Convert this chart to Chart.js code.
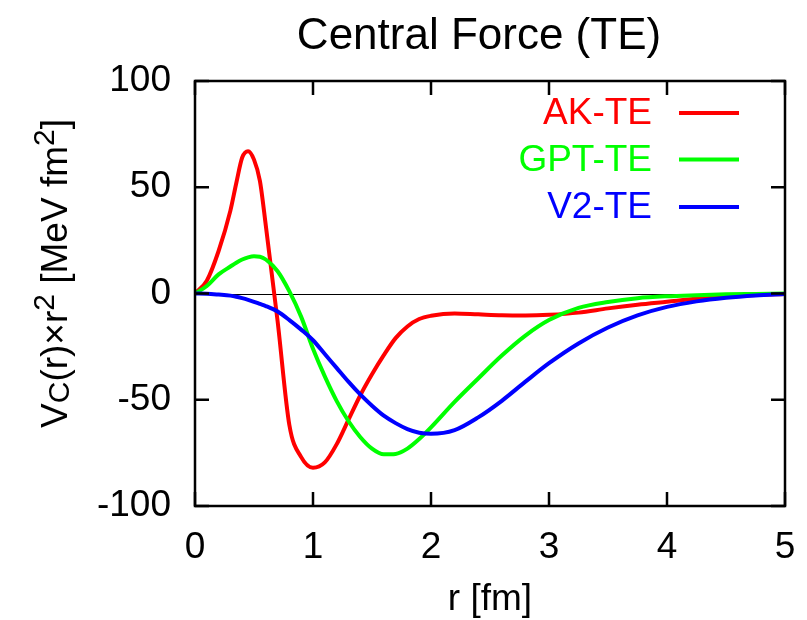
<!DOCTYPE html>
<html>
<head>
<meta charset="utf-8">
<script src="https://cdn.jsdelivr.net/npm/chart.js@4"></script>
<style>
  html, body { margin: 0; padding: 0; background: #fff; }
  canvas { display: block; }
</style>
</head>
<body>
<canvas id="chart" width="807" height="620"></canvas>
<script>
// ── Data ─────────────────────────────────────────────────────
const rGrid = [0, 0.1, 0.2, 0.3, 0.35, 0.4, 0.45, 0.5, 0.55, 0.6, 0.7, 0.8, 0.9,
  1.0, 1.1, 1.2, 1.3, 1.4, 1.5, 1.6, 1.7, 1.8, 1.9, 2.0, 2.2, 2.4, 2.6, 2.8,
  3.0, 3.25, 3.5, 3.75, 4.0, 4.25, 4.5, 4.75, 5.0];

const akTE = [0, 6, 20, 39, 52, 64, 67, 63, 53, 32, -13, -62, -77,
  -82, -79.5, -71, -59.5, -48, -38, -29, -21, -15.5, -12, -10.5, -9.4, -9.8, -10.2, -10.3,
  -10, -9, -7, -5.3, -3.9, -2.5, -1.5, -0.7, -0.2];

const gptTE = [0, 3.5, 9, 12.7, 14.5, 16, 17, 17.5, 17.3, 16, 10.5, 1, -11,
  -26, -39, -50.5, -60, -67.5, -73, -75.7, -75.5, -73, -68.5, -63, -51, -40, -29.2, -19.8,
  -12.5, -6.8, -4, -2.2, -1.3, -0.8, -0.4, -0.2, 0];

const v2TE = [0, -0.1, -0.5, -1, -1.5, -2.2, -3, -3.9, -4.9, -5.9, -8.5, -12.5, -17,
  -22, -28.5, -35, -41.5, -47.5, -52.8, -57.5, -61, -63.8, -65.5, -66, -64.3, -58.3, -50.5, -41.5,
  -32.8, -23.5, -16, -10.3, -6.3, -3.7, -2, -0.9, -0.2];

const seriesNames  = ['AK-TE', 'GPT-TE', 'V2-TE'];
const seriesColors = ['#ff0000', '#00ff00', '#0000ff'];

const xTicks = [0, 1, 2, 3, 4, 5];
const yTicks = [-100, -50, 0, 50, 100];

const FONT = '"Liberation Sans", Arial, Helvetica, sans-serif';

function toPoints(ys) { return rGrid.map((r, i) => ({ x: r, y: ys[i] })); }

// ── Plugins ──────────────────────────────────────────────────
// thin zero line under the curves
const zeroLine = {
  id: 'zeroLine',
  beforeDatasetsDraw(chart) {
    const { ctx, chartArea: a, scales: { y } } = chart;
    const py = Math.round(y.getPixelForValue(0)) + 0.5;
    ctx.save();
    ctx.strokeStyle = '#000';
    ctx.lineWidth = 1;
    ctx.beginPath();
    ctx.moveTo(a.left, py);
    ctx.lineTo(a.right, py);
    ctx.stroke();
    ctx.restore();
  }
};

// gnuplot-like frame with inward ticks on all four sides
const frame = {
  id: 'frame',
  afterDatasetsDraw(chart) {
    const { ctx, chartArea: a, scales: { x, y } } = chart;
    const tl = 14;
    ctx.save();
    ctx.strokeStyle = '#000';
    ctx.lineWidth = 2.5;
    ctx.strokeRect(a.left, a.top, a.right - a.left, a.bottom - a.top);
    ctx.beginPath();
    xTicks.forEach(v => {
      const px = x.getPixelForValue(v);
      ctx.moveTo(px, a.bottom); ctx.lineTo(px, a.bottom - tl);
      ctx.moveTo(px, a.top);    ctx.lineTo(px, a.top + tl);
    });
    yTicks.forEach(v => {
      const py = y.getPixelForValue(v);
      ctx.moveTo(a.left, py);  ctx.lineTo(a.left + tl, py);
      ctx.moveTo(a.right, py); ctx.lineTo(a.right - tl, py);
    });
    ctx.stroke();
    ctx.restore();
  }
};

// title, a bit left of the plot centre like the original
const plotTitle = {
  id: 'plotTitle',
  afterDraw(chart) {
    const { ctx, chartArea: a } = chart;
    ctx.save();
    ctx.font = '44px ' + FONT;
    ctx.fillStyle = '#000';
    ctx.textAlign = 'center';
    ctx.textBaseline = 'alphabetic';
    ctx.fillText('Central Force (TE)', (a.left + a.right) / 2 - 11, 49);
    ctx.restore();
  }
};

// key in the top right: label first, then the line sample
const key = {
  id: 'key',
  afterDraw(chart) {
    const { ctx, chartArea: a } = chart;
    const rows = [a.top + 32, a.top + 78.5, a.top + 126];
    ctx.save();
    ctx.font = '37px ' + FONT;
    ctx.textAlign = 'right';
    ctx.textBaseline = 'middle';
    ctx.lineWidth = 4;
    seriesNames.forEach((name, i) => {
      ctx.fillStyle = seriesColors[i];
      ctx.fillText(name, a.right - 133, rows[i] + 1);
      ctx.strokeStyle = seriesColors[i];
      ctx.beginPath();
      ctx.moveTo(a.right - 106, rows[i]);
      ctx.lineTo(a.right - 46, rows[i]);
      ctx.stroke();
    });
    ctx.restore();
  }
};

// y axis title with subscript / superscripts
const yTitle = {
  id: 'yTitle',
  afterDraw(chart) {
    const { ctx, chartArea: a } = chart;
    const size = 37, small = 30;
    const parts = [
      { t: 'V' }, { t: 'C', sub: true }, { t: '(r)×r' }, { t: '2', sup: true },
      { t: ' [MeV fm' }, { t: '2', sup: true }, { t: ']' }
    ];
    ctx.save();
    let total = 0;
    parts.forEach(p => {
      ctx.font = ((p.sub || p.sup) ? small : size) + 'px ' + FONT;
      p.w = ctx.measureText(p.t).width;
      total += p.w;
    });
    ctx.translate(67, (a.top + a.bottom) / 2 - 20);
    ctx.rotate(-Math.PI / 2);
    ctx.fillStyle = '#000';
    ctx.textBaseline = 'alphabetic';
    ctx.textAlign = 'left';
    let cx = -total / 2;
    parts.forEach(p => {
      ctx.font = ((p.sub || p.sup) ? small : size) + 'px ' + FONT;
      const dy = p.sub ? 2 : p.sup ? -13 : 0;
      ctx.fillText(p.t, cx, dy);
      cx += p.w;
    });
    ctx.restore();
  }
};

// ── Chart ────────────────────────────────────────────────────
new Chart(document.getElementById('chart'), {
  type: 'scatter',
  data: {
    datasets: [akTE, gptTE, v2TE].map((ys, i) => ({
      label: seriesNames[i],
      data: toPoints(ys),
      showLine: true,
      borderColor: seriesColors[i],
      backgroundColor: seriesColors[i],
      borderWidth: 4,
      pointRadius: 0,
      cubicInterpolationMode: 'monotone',
      order: 2 - i,
    }))
  },
  options: {
    responsive: false,
    animation: false,
    devicePixelRatio: 1,
    layout: { padding: { left: 0, right: 22, top: 81, bottom: 0 } },
    plugins: {
      legend: { display: false },
      tooltip: { enabled: false },
      title: { display: false },
    },
    scales: {
      x: {
        type: 'linear',
        min: 0, max: 5,
        afterBuildTicks: s => { s.ticks = xTicks.map(v => ({ value: v })); },
        afterFit: s => { s.height = 114; s.paddingLeft = 0; s.paddingRight = 0; },
        grid: { display: false, drawTicks: false },
        border: { display: false },
        ticks: { color: '#000', font: { family: FONT, size: 37 }, padding: 20, maxRotation: 0 },
        title: {
          display: true, text: 'r [fm]', color: '#000',
          font: { family: FONT, size: 37, lineHeight: 1 },
          padding: { top: 0, bottom: 2 },
        },
      },
      y: {
        type: 'linear',
        min: -100, max: 100,
        afterBuildTicks: s => { s.ticks = yTicks.map(v => ({ value: v })); },
        afterFit: s => { s.width = 195; s.paddingTop = 0; s.paddingBottom = 0; },
        grid: { display: false, drawTicks: false },
        border: { display: false },
        ticks: { color: '#000', font: { family: FONT, size: 37 }, padding: 24 },
      },
    },
  },
  plugins: [zeroLine, frame, plotTitle, key, yTitle],
});
</script>
</body>
</html>
